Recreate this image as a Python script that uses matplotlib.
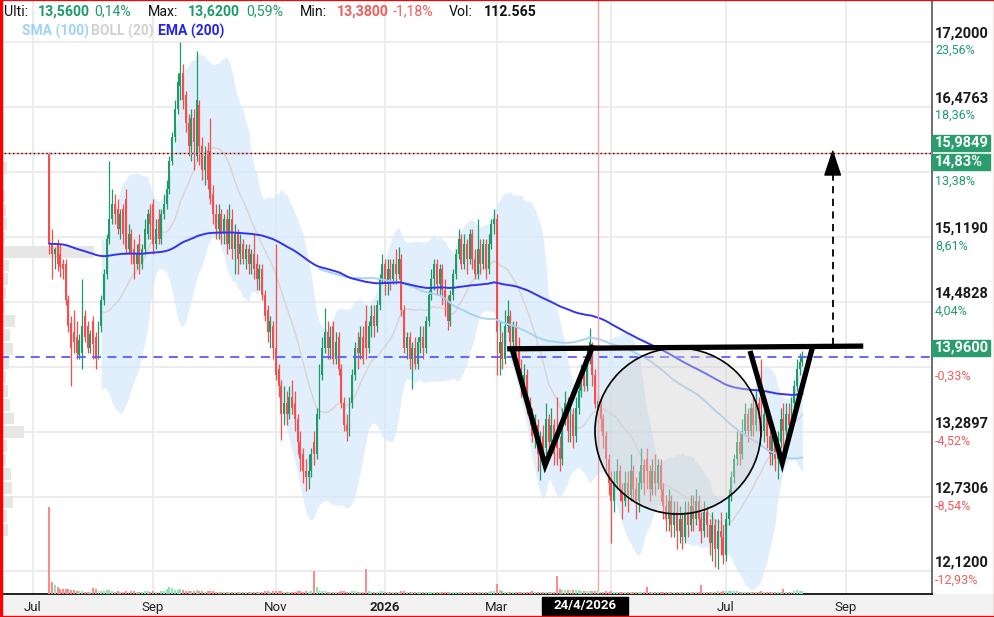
import math

import numpy as np
import pandas as pd
import matplotlib
matplotlib.use("Agg")
import matplotlib.pyplot as plt
from matplotlib.patches import Rectangle, Ellipse
from matplotlib.ticker import NullLocator
from matplotlib.transforms import blended_transform_factory

plt.rcParams["font.family"] = ["Roboto", "DejaVu Sans"]

W, H = 995, 617

# daily candles, trading-day index counted from 1 Jul 2025
FIRST_DAY = 6
opens = [
    15.98, 15.05, 14.95, 15.05, 14.95, 14.85, 14.85, 14.50, 14.28, 14.20,
    14.15, 13.98, 14.00, 14.35, 14.25, 14.05, 14.30, 14.15, 13.98, 14.25,
    14.50, 14.75, 15.10, 15.30, 15.45, 15.40, 15.20, 15.40, 15.50, 15.00,
    15.15, 15.00, 14.85, 15.05, 14.85, 15.00, 15.15, 15.35, 15.45, 15.05,
    15.30, 15.10, 15.35, 15.45, 15.60, 15.90, 16.15, 16.45, 16.70, 16.85,
    16.60, 16.30, 16.05, 16.35, 15.95, 16.50, 16.05, 15.80, 16.00, 16.00,
    15.55, 15.35, 15.20, 15.35, 15.15, 15.30, 15.05, 15.30, 15.00, 15.15,
    14.95, 15.05, 14.90, 15.00, 14.85, 14.95, 14.85, 14.70, 14.80, 14.55,
    14.40, 14.20, 14.25, 14.05, 13.85, 13.70, 13.45, 13.55, 13.45, 13.60,
    13.55, 13.40, 13.20, 13.10, 12.95, 12.90, 12.95, 13.20, 13.10, 13.45,
    13.80, 14.05, 14.20, 14.05, 14.25, 13.95, 14.15, 13.85, 13.55, 13.35,
    13.30, 13.55, 13.80, 14.05, 14.00, 14.15, 14.30, 14.05, 14.25, 14.35,
    14.25, 14.45, 14.70, 14.85, 14.65, 14.80, 14.70, 14.85, 14.75, 14.90,
    14.40, 14.05, 14.15, 13.95, 14.05, 13.90, 14.10, 14.15, 14.05, 14.30,
    14.55, 14.70, 14.85, 14.65, 14.80, 14.60, 14.50, 14.30, 14.55, 14.75,
    14.95, 15.10, 14.85, 15.05, 14.90, 15.15, 14.90, 14.75, 15.00, 14.85,
    15.05, 14.80, 15.05, 15.25, 15.30, 14.00, 14.10, 13.95, 14.25, 14.35,
    14.10, 14.25, 14.05, 13.85, 13.70, 13.80, 13.55, 13.40, 13.25, 13.35,
    13.10, 13.25, 13.15, 13.40, 13.20, 13.35, 13.30, 13.15, 13.05, 13.40,
    13.55, 13.30, 13.45, 13.25, 13.50, 13.65, 13.80, 13.70, 13.95, 14.05,
    13.80, 13.50, 13.56, 13.40, 13.25, 13.05, 12.85, 12.70, 12.85, 12.95,
    12.80, 12.70, 12.85, 12.75, 12.95, 12.80, 12.70, 12.85, 13.00, 13.05,
    12.95, 12.80, 12.95, 12.85, 13.00, 12.80, 12.65, 12.55, 12.70, 12.50,
    12.60, 12.45, 12.55, 12.40, 12.60, 12.50, 12.65, 12.55, 12.70, 12.55,
    12.45, 12.60, 12.50, 12.35, 12.50, 12.30, 12.45, 12.40, 12.25, 12.55,
    12.75, 12.90, 13.05, 13.20, 13.10, 13.30, 13.45, 13.30, 13.50, 13.35,
    13.55, 13.40, 13.30, 13.45, 13.25, 13.10, 13.25, 13.05, 13.20, 13.40,
    13.30, 13.45, 13.35, 13.55, 13.70, 13.85, 13.92,
]
highs = [
    15.99, 15.20, 15.02, 15.10, 15.05, 14.90, 14.90, 14.55, 14.35, 14.40,
    14.30, 14.18, 14.70, 14.40, 14.30, 14.22, 14.35, 14.20, 14.30, 14.55,
    14.80, 15.15, 15.90, 15.60, 15.55, 15.50, 15.40, 15.45, 15.60, 15.25,
    15.20, 15.10, 15.05, 15.15, 15.05, 15.30, 15.40, 15.45, 15.50, 15.30,
    15.40, 15.40, 15.55, 15.70, 15.95, 16.20, 16.55, 16.85, 17.20, 16.95,
    16.65, 16.40, 16.45, 16.45, 17.10, 16.55, 16.15, 16.05, 16.10, 16.35,
    15.65, 15.45, 15.45, 15.40, 15.35, 15.40, 15.45, 15.40, 15.25, 15.20,
    15.15, 15.10, 15.05, 15.05, 15.00, 15.15, 14.95, 14.85, 14.85, 14.60,
    14.45, 14.35, 14.30, 15.05, 13.90, 13.75, 13.70, 13.65, 13.70, 13.75,
    13.65, 13.45, 13.30, 13.15, 13.05, 13.10, 13.15, 13.30, 13.50, 13.90,
    14.15, 14.42, 14.30, 14.25, 14.30, 14.20, 14.20, 13.90, 13.60, 13.45,
    13.60, 13.85, 14.10, 14.20, 14.25, 14.25, 14.45, 14.30, 14.45, 14.45,
    14.50, 14.75, 14.95, 14.90, 14.90, 14.90, 14.90, 15.00, 15.02, 14.95,
    14.45, 14.20, 14.20, 14.10, 14.15, 14.15, 14.25, 14.25, 14.35, 14.60,
    14.80, 14.90, 14.90, 14.85, 14.85, 14.70, 14.55, 14.60, 14.80, 15.00,
    15.20, 15.15, 15.15, 15.10, 15.20, 15.20, 15.00, 15.30, 15.10, 15.10,
    15.10, 15.15, 15.30, 15.40, 15.35, 14.30, 14.20, 14.40, 14.50, 14.40,
    14.30, 14.30, 14.15, 13.95, 13.90, 13.85, 13.60, 13.50, 13.45, 13.40,
    13.30, 13.35, 13.55, 13.45, 13.50, 13.40, 13.60, 13.25, 13.50, 13.65,
    13.60, 13.55, 13.50, 13.60, 13.75, 13.90, 13.95, 14.05, 14.23, 14.10,
    13.85, 13.62, 13.60, 13.45, 13.30, 13.10, 12.95, 12.95, 13.05, 13.00,
    12.85, 12.95, 12.95, 13.10, 13.00, 12.90, 12.95, 13.15, 13.05, 13.15,
    13.00, 13.05, 13.10, 13.05, 13.05, 12.85, 12.75, 12.80, 12.75, 12.70,
    12.70, 12.65, 12.60, 12.70, 12.70, 12.75, 12.75, 12.80, 12.75, 12.60,
    12.70, 12.65, 12.55, 12.60, 12.55, 12.55, 12.60, 12.50, 12.60, 12.80,
    12.95, 13.10, 13.30, 13.30, 13.40, 13.55, 13.50, 13.55, 13.60, 13.65,
    13.60, 13.95, 13.55, 13.50, 13.30, 13.35, 13.30, 13.30, 13.50, 13.55,
    13.55, 13.55, 13.60, 13.75, 13.95, 14.00, 14.02,
]
lows = [
    14.95, 14.70, 14.80, 14.78, 14.72, 14.70, 14.45, 14.20, 13.70, 14.00,
    13.95, 13.95, 13.85, 14.10, 14.00, 14.00, 13.95, 13.85, 13.95, 14.20,
    14.45, 14.70, 15.05, 15.25, 15.25, 15.15, 15.10, 15.05, 14.95, 14.95,
    14.85, 14.70, 14.80, 14.75, 14.80, 14.95, 15.10, 15.10, 14.95, 15.00,
    15.05, 15.05, 15.30, 15.40, 15.55, 15.85, 16.10, 16.40, 16.55, 16.45,
    16.20, 15.95, 15.90, 15.80, 15.90, 15.85, 15.70, 15.65, 15.60, 15.45,
    15.25, 15.10, 15.10, 15.05, 15.05, 14.95, 15.00, 14.90, 14.75, 14.75,
    14.85, 14.85, 14.80, 14.75, 14.75, 14.70, 14.60, 14.60, 14.50, 14.30,
    14.10, 14.05, 13.95, 13.75, 13.60, 13.22, 13.35, 13.35, 13.40, 13.45,
    13.30, 13.10, 12.95, 12.85, 12.78, 12.80, 12.90, 13.00, 13.05, 13.40,
    13.75, 14.00, 13.95, 13.95, 13.90, 13.90, 13.80, 13.50, 13.30, 13.21,
    13.25, 13.50, 13.75, 13.85, 13.95, 13.90, 13.95, 14.00, 14.15, 14.15,
    14.20, 14.40, 14.65, 14.55, 14.55, 14.60, 14.65, 14.65, 14.70, 14.35,
    14.00, 13.95, 13.85, 13.67, 13.85, 13.85, 14.00, 13.95, 14.00, 14.25,
    14.50, 14.60, 14.55, 14.55, 14.45, 14.35, 14.22, 14.25, 14.50, 14.70,
    14.90, 14.80, 14.80, 14.75, 14.85, 14.80, 14.70, 14.70, 14.75, 14.80,
    14.70, 14.75, 15.00, 15.15, 13.80, 13.80, 13.85, 13.90, 14.20, 14.05,
    14.00, 13.95, 13.80, 13.60, 13.60, 13.45, 13.35, 13.20, 13.15, 12.95,
    12.87, 13.05, 13.10, 13.10, 13.10, 13.00, 13.00, 12.95, 13.00, 13.35,
    13.20, 13.20, 13.15, 13.20, 13.45, 13.60, 13.65, 13.65, 13.90, 13.70,
    13.50, 13.38, 13.30, 13.15, 12.95, 12.75, 12.35, 12.60, 12.80, 12.70,
    12.55, 12.65, 12.60, 12.70, 12.70, 12.55, 12.60, 12.80, 12.75, 12.80,
    12.70, 12.75, 12.75, 12.80, 12.70, 12.55, 12.45, 12.45, 12.40, 12.40,
    12.30, 12.35, 12.30, 12.35, 12.40, 12.45, 12.45, 12.50, 12.45, 12.35,
    12.40, 12.40, 12.25, 12.20, 12.15, 12.14, 12.25, 12.18, 12.20, 12.50,
    12.70, 12.85, 13.00, 13.00, 13.05, 13.25, 13.20, 13.25, 13.25, 13.30,
    13.30, 13.25, 13.20, 13.15, 13.00, 13.00, 12.95, 12.88, 13.15, 13.00,
    13.25, 13.30, 13.30, 13.50, 13.65, 13.80, 13.88,
]
closes = [
    15.05, 14.95, 15.00, 14.85, 14.82, 14.80, 14.50, 14.25, 14.05, 14.10,
    14.00, 14.12, 14.25, 14.15, 14.05, 14.18, 14.08, 13.95, 14.25, 14.50,
    14.75, 15.10, 15.30, 15.45, 15.35, 15.20, 15.35, 15.15, 15.00, 15.15,
    14.95, 14.85, 14.95, 14.85, 15.00, 15.20, 15.35, 15.25, 15.05, 15.20,
    15.10, 15.35, 15.45, 15.60, 15.90, 16.15, 16.45, 16.75, 16.85, 16.55,
    16.30, 16.05, 16.35, 16.10, 16.55, 16.05, 15.80, 15.95, 15.70, 15.50,
    15.35, 15.20, 15.35, 15.15, 15.30, 15.05, 15.30, 15.00, 15.15, 14.90,
    15.05, 14.90, 15.00, 14.85, 14.95, 14.80, 14.70, 14.80, 14.55, 14.35,
    14.20, 14.30, 14.05, 13.80, 13.70, 13.45, 13.55, 13.45, 13.60, 13.50,
    13.40, 13.20, 13.05, 12.95, 12.90, 12.95, 13.10, 13.10, 13.45, 13.80,
    14.05, 14.20, 14.05, 14.15, 13.95, 14.10, 13.85, 13.55, 13.35, 13.30,
    13.55, 13.80, 14.05, 14.00, 14.15, 13.95, 14.05, 14.25, 14.35, 14.25,
    14.45, 14.70, 14.85, 14.65, 14.80, 14.70, 14.85, 14.75, 14.90, 14.40,
    14.05, 14.15, 13.95, 14.05, 13.90, 14.10, 14.15, 14.05, 14.30, 14.55,
    14.70, 14.85, 14.65, 14.80, 14.60, 14.50, 14.30, 14.55, 14.75, 14.95,
    15.10, 14.85, 15.05, 14.90, 15.15, 14.90, 14.75, 15.00, 14.85, 15.05,
    14.80, 15.05, 15.25, 15.30, 14.20, 14.10, 13.95, 14.25, 14.35, 14.10,
    14.25, 14.05, 13.85, 13.70, 13.80, 13.55, 13.40, 13.25, 13.35, 13.10,
    13.25, 13.15, 13.40, 13.20, 13.35, 13.10, 13.15, 13.05, 13.40, 13.55,
    13.30, 13.45, 13.25, 13.50, 13.65, 13.80, 13.70, 13.95, 14.10, 13.80,
    13.54, 13.56, 13.40, 13.25, 13.05, 12.85, 12.70, 12.85, 12.95, 12.80,
    12.70, 12.85, 12.75, 12.95, 12.80, 12.70, 12.85, 13.00, 12.85, 12.95,
    12.80, 12.95, 12.85, 13.00, 12.80, 12.65, 12.55, 12.70, 12.50, 12.60,
    12.45, 12.55, 12.40, 12.60, 12.50, 12.65, 12.55, 12.70, 12.55, 12.45,
    12.60, 12.50, 12.35, 12.50, 12.30, 12.45, 12.40, 12.25, 12.55, 12.75,
    12.90, 13.05, 13.20, 13.10, 13.30, 13.45, 13.30, 13.50, 13.35, 13.55,
    13.40, 13.30, 13.45, 13.25, 13.10, 13.25, 13.05, 13.20, 13.40, 13.30,
    13.45, 13.35, 13.55, 13.70, 13.85, 13.92, 13.96,
]
# volume in thousands of shares
volumes = [
    2600, 360, 270, 210, 160, 150, 160, 140, 130, 110,
    100, 90, 80, 70, 60, 70, 190, 150, 80, 90,
    100, 110, 120, 90, 70, 80, 60, 70, 90, 60,
    80, 90, 60, 70, 60, 80, 90, 60, 80, 60,
    70, 80, 90, 150, 200, 180, 130, 120, 140, 110,
    100, 90, 100, 80, 120, 90, 80, 70, 80, 90,
    80, 70, 60, 70, 60, 70, 60, 70, 60, 70,
    60, 70, 60, 60, 50, 60, 70, 60, 70, 80,
    80, 70, 80, 90, 80, 90, 70, 60, 60, 70,
    70, 80, 80, 70, 80, 70, 80, 680, 200, 110,
    90, 90, 70, 60, 70, 60, 70, 80, 80, 70,
    70, 80, 80, 60, 60, 70, 740, 90, 70, 60,
    70, 80, 80, 60, 60, 60, 50, 60, 60, 80,
    90, 60, 70, 60, 60, 60, 50, 50, 60, 70,
    60, 60, 60, 50, 60, 60, 70, 60, 60, 70,
    70, 60, 60, 60, 60, 60, 60, 70, 60, 60,
    60, 70, 80, 90, 310, 120, 80, 70, 60, 60,
    50, 60, 60, 70, 60, 70, 70, 80, 60, 70,
    70, 60, 70, 60, 60, 70, 530, 140, 120, 130,
    120, 130, 110, 120, 110, 90, 80, 90, 100, 90,
    80, 112.565, 70, 70, 80, 70, 90, 60, 60, 60,
    60, 50, 60, 60, 50, 60, 50, 60, 60, 200,
    60, 50, 60, 50, 60, 70, 60, 50, 60, 50,
    60, 50, 60, 50, 60, 50, 50, 50, 60, 260,
    70, 60, 60, 70, 70, 80, 70, 80, 90, 100,
    90, 80, 80, 60, 70, 70, 60, 60, 60, 60,
    60, 80, 60, 60, 60, 50, 60, 60, 70, 150,
    70, 60, 70, 90, 130, 100, 80,
]

# volume profile on the left, bins from top (16.04) to bottom (12.40)
profile_range = (12.40, 16.04)
profile_vols = [0, 180, 0, 120, 150, 180, 120, 2790, 240, 210, 150, 120, 420, 270,
                360, 240, 150, 210, 270, 390, 690, 180, 150, 300, 330, 360, 180, 210]

month_days = [0, 44, 89, 129, 170, 212, 254, 298]
month_labels = ["Jul", "Sep", "Nov", "2026", "Mar", "", "Jul", "Sep"]
price_ticks = [12.12, 12.7306, 13.2897, 13.874, 14.4828, 15.119, 15.783, 16.4763, 17.2]
# ticks whose price text sits under a highlighted box
covered_ticks = [13.874, 15.783]
ref_price = 13.92
last_price = 13.96
cross_day = 207
cross_price = 15.9849
cross_label = "24/4/2026"

# hand drawn pattern (day index, price)
neck_days, neck_prices = [173.8, 304.3], [14.04, 14.065]
v1_days, v1_prices = [175.6, 187.7, 205.3], [14.04, 13.00, 14.075]
v2_days, v2_prices = [262.8, 274.6, 285.9], [14.02, 13.02, 14.075]
bowl_day, bowl_price = 236.4, 13.297
target_day, target_prices = 293.1, [14.075, 15.82, 16.05]

GREEN, RED = "#1f9b6b", "#f74d4d"
GRID = "#ebebeb"

df = pd.DataFrame({"open": opens, "high": highs, "low": lows, "close": closes, "vol": volumes})
df.index = np.arange(FIRST_DAY, FIRST_DAY + len(df))
ema200 = df["close"].ewm(span=200, adjust=False).mean()
sma100 = df["close"].rolling(100).mean()
mid20 = df["close"].rolling(20).mean()
sd20 = df["close"].rolling(20).std(ddof=0)
up20, lo20 = mid20 + 2 * sd20, mid20 - 2 * sd20

fig = plt.figure(figsize=(W / 100, H / 100), dpi=100)
fig.patch.set_facecolor("white")
fig.add_artist(Rectangle((0, 0), 1, 23 / H, transform=fig.transFigure, color="#f2f2f2", zorder=-1))

ax = fig.add_axes([0, 23 / H, 932 / W, 594 / H])
ax.set_yscale("log")
ax.set_xlim(-12.1, 329.5)
ax.set_ylim(11.939, 17.681)
ax.yaxis.set_major_locator(NullLocator())
ax.yaxis.set_minor_locator(NullLocator())
ax.set_xticks(month_days)
ax.set_xticklabels(month_labels)
ax.tick_params(axis="x", length=0, pad=5, labelsize=9.5, labelcolor="#222222")
for lbl in ax.get_xticklabels():
    if lbl.get_text() == "2026":
        lbl.set_fontweight("bold")
for s in ["top", "left"]:
    ax.spines[s].set_visible(False)
ax.spines["right"].set_color("#555555")
ax.spines["right"].set_linewidth(1.2)
ax.spines["bottom"].set_color("#111111")
ax.spines["bottom"].set_linewidth(1.3)

for d in month_days:
    ax.axvline(d, color=GRID, lw=1.3, zorder=0)
for p in price_ticks:
    ax.axhline(p, color=GRID, lw=1.3, zorder=0)

# volume profile
tr = blended_transform_factory(ax.transAxes, ax.transData)
edges = np.geomspace(profile_range[1], profile_range[0], len(profile_vols) + 1)
gap = np.exp(1.0 / 1512.7)
for k, v in enumerate(profile_vols):
    if v <= 0:
        continue
    top, bot = edges[k] / gap, edges[k + 1] * gap
    ax.add_patch(Rectangle((0.0015, bot), v / max(profile_vols) * 93 / 932, top - bot,
                           transform=tr, color="#e6e6e6", lw=0, zorder=0.5))

# bollinger band
ax.fill_between(df.index, lo20, up20, color="#d3e9fa", alpha=0.7, lw=0, zorder=1)
ax.plot(df.index, mid20, color="#dcd2cf", lw=1.0, zorder=1.5)

# candles
up = df["close"] >= df["open"]
cols = np.where(up, GREEN, RED)
ax.vlines(df.index, df["low"], df["high"], colors=cols, lw=0.9, zorder=3)
body_lo = np.minimum(df["open"], df["close"])
body_h = np.maximum((df["close"] - df["open"]).abs(), 0.012)
ax.bar(df.index, body_h, bottom=body_lo, width=0.72, color=cols, lw=0, zorder=3)

ax.plot(df.index, sma100, color="#a3d2f5", lw=1.3, zorder=4)
ax.plot(df.index, ema200, color="#3434ee", lw=1.4, zorder=4)

# reference lines
ax.axhline(last_price, color="#5b5bff", lw=1.3, ls=(0, (5, 3.5)), zorder=4)
ax.axhline(cross_price, color="#f4a5a5", lw=1.0, zorder=4)
ax.axhline(cross_price, color="#111111", lw=1.0, ls=(0, (1, 2)), zorder=4)
ax.axvline(cross_day, color="#f4a5a5", lw=1.0, zorder=4)

# pattern drawing
for xs, ys in [(neck_days, neck_prices), (v1_days, v1_prices), (v2_days, v2_prices)]:
    ax.plot(xs, ys, color="black", lw=3.8, solid_joinstyle="miter", solid_capstyle="butt", zorder=7)
cx, cy = ax.transAxes.inverted().transform(ax.transData.transform((bowl_day, bowl_price)))
ax.add_patch(Ellipse((cx, cy), 2 * 83 / 932, 2 * 83 / 594, transform=ax.transAxes,
                     facecolor=(0.82, 0.82, 0.82, 0.42), edgecolor="black", lw=1.2, zorder=6))
ax.plot([target_day, target_day], target_prices[:2], color="black", lw=1.3,
        ls=(0, (4, 3)), zorder=7)
ax.annotate("", xy=(target_day, target_prices[2]), xytext=(target_day, target_prices[1]),
            arrowprops=dict(arrowstyle="-|>,head_length=0.85,head_width=0.28",
                            mutation_scale=20, color="black", lw=1.0), zorder=7)

# volume bars
axv = ax.twinx()
axv.set_ylim(0, max(volumes) * 594 / 87)
vcols = np.where(up, "#8ee2b6", "#ff8a8a")
axv.bar(df.index, df["vol"], width=0.72, color=vcols, lw=0)
axv.set_axis_off()


def fy(price):
    return ax.transData.transform((0, price))[1] / fig.bbox.height


def fmt(v, nd):
    return f"{v:.{nd}f}".replace(".", ",")


def pct_text(price):
    # the platform cuts the percentage, it does not round it
    pct = math.trunc((price / ref_price - 1) * 10000) / 100
    return fmt(pct, 2) + "%", pct


# right axis labels
for p in price_ticks:
    txt, pct = pct_text(p)
    if p not in covered_ticks:
        fig.text(935 / W, fy(p) + 8.5 / H, fmt(p, 4), ha="left", va="center",
                 fontsize=10.5, fontweight="bold", color="#1a1a1a")
    fig.text(935 / W, fy(p) - 9 / H, txt, ha="left", va="center",
             fontsize=9, color=GREEN if pct >= 0 else "#f25c5c")


def price_box(y_bottom, text):
    fig.add_artist(Rectangle((932 / W, y_bottom), 58 / W, 16 / H, transform=fig.transFigure,
                             color="#2a9d6f", zorder=5))
    fig.text(935 / W, y_bottom + 8 / H, text, ha="left", va="center", fontsize=10.5,
             fontweight="bold", color="white", zorder=6)


yc = fy(cross_price)
price_box(yc + 1.5 / H, fmt(cross_price, 4))
price_box(yc - 17.5 / H, pct_text(cross_price)[0])
price_box(fy(last_price) + 1.5 / H, fmt(last_price, 4))

# crosshair date label
fig.add_artist(Rectangle((542 / W, 2 / H), 86 / W, 18 / H, transform=fig.transFigure,
                         color="black", zorder=5))
fig.text(585 / W, 11 / H, cross_label, ha="center", va="center", fontsize=9.5,
         fontweight="bold", color="white", zorder=6)

# header
hy = (H - 11.5) / H
header = [
    (4, "Ulti:", "#111111", "normal"), (38, "13,5600", GREEN, "bold"), (94, "0,14%", GREEN, "normal"),
    (148, "Max:", "#111111", "normal"), (188, "13,6200", GREEN, "bold"), (246, "0,59%", GREEN, "normal"),
    (300, "Min:", "#111111", "normal"), (337, "13,3800", "#f25c5c", "bold"),
    (393, "-1,18%", "#f25c5c", "normal"),
    (449, "Vol:", "#111111", "normal"), (484, "112.565", "#111111", "bold"),
]
for x, t, c, w in header:
    fig.text(x / W, hy, t, ha="left", va="center", fontsize=10.2, color=c, fontweight=w)

ly = (H - 31) / H
fig.text(22 / W, ly, "SMA (100)", ha="left", va="center", fontsize=10, color="#9fd2f6", fontweight="bold")
fig.text(91 / W, ly, "BOLL (20)", ha="left", va="center", fontsize=10, color="#d0d0d0", fontweight="bold")
fig.text(158 / W, ly, "EMA (200)", ha="left", va="center", fontsize=10, color="#2424e6", fontweight="bold")

# red frame
fig.add_artist(Rectangle((0, 0), 1, 1, transform=fig.transFigure, fill=False,
                         edgecolor="#ff0000", lw=1.6, zorder=20))
fig.add_artist(Rectangle((0, 0), 2 / W, 1, transform=fig.transFigure, color="#ff0000", zorder=20))

fig.savefig("out.png", dpi=100)
